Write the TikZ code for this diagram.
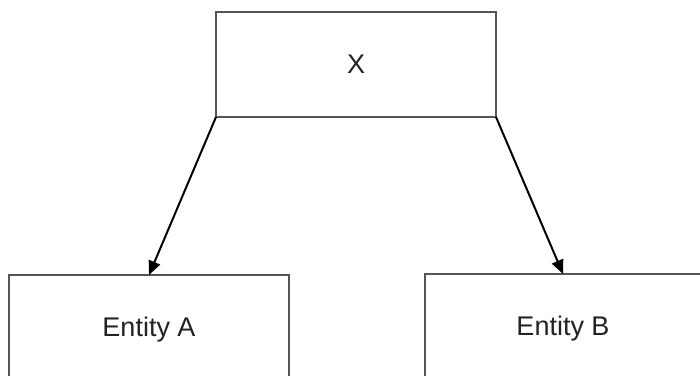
\documentclass[tikz,border=0pt]{standalone}
\usepackage{fontspec}
\setmainfont{Liberation Sans}
\usepackage{tikz}
\usetikzlibrary{arrows.meta,positioning}
\definecolor{boxline}{HTML}{555555}
\definecolor{textdark}{HTML}{222222}

\begin{document}
\begin{tikzpicture}[x=0.5pt,y=-0.5pt,
  font=\fontsize{13.5}{16}\selectfont,
  entity/.style={draw=boxline,line width=1pt,anchor=north west,outer sep=0pt,fill=white,text=textdark,minimum height=55pt,minimum width=140pt},
  link/.style={-{Triangle[length=7pt,width=6pt]},line width=1pt,black}]
 \useasboundingbox (0,0) rectangle (700,375);
 \clip (0,0) rectangle (700,375);
 \node[entity,minimum height=52.5pt] (x) at (216,12) {X};
 \node[entity] (a) at (9,275) {Entity A};
 \node[entity,minimum width=138pt] (b) at (425,274) {Entity B};
 
 \draw[link] (x.south west) -- (a.north);
 \draw[link] (x.south east) -- (b.north);
\end{tikzpicture}
\end{document}
